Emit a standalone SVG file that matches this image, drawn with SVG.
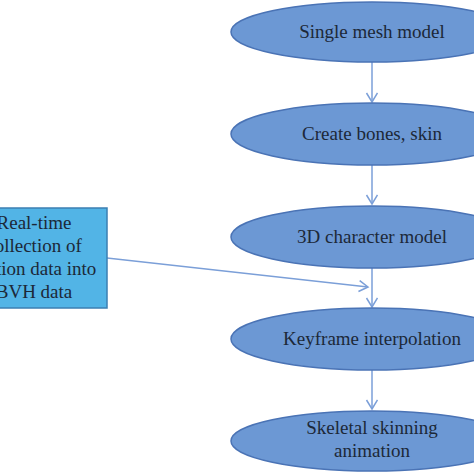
<svg xmlns="http://www.w3.org/2000/svg" width="474" height="474" viewBox="0 0 474 474">
<defs>
<marker id="arr" markerWidth="14" markerHeight="14" refX="10" refY="6" orient="auto" markerUnits="userSpaceOnUse">
<path d="M1,0.5 L10,6 L1,11.5" fill="none" stroke="#7b9fd8" stroke-width="1.5"/>
</marker>
</defs>
<style>
.ell{fill:#6c98d4;stroke:#4a73b5;stroke-width:1.5}
.box{fill:#52b4e6;stroke:#3b7fb2;stroke-width:1.5}
.t{font-family:"Liberation Serif","Times New Roman",serif;font-size:19px;fill:#1c2838;text-anchor:middle}
.c{fill:none;stroke:#7b9fd8;stroke-width:1.5;marker-end:url(#arr)}
</style>
<rect width="474" height="474" fill="#ffffff"/>
<g id="connectors">
<line class="c" x1="372" y1="62" x2="372" y2="102"/>
<line class="c" x1="372" y1="165" x2="372" y2="204"/>
<line class="c" x1="372" y1="268" x2="372" y2="307"/>
<line class="c" x1="372" y1="370" x2="372" y2="409"/>
<line class="c" x1="107" y1="258" x2="368" y2="287"/>
</g>
<g id="n1"><ellipse class="ell" cx="372" cy="32" rx="141" ry="30"/><text class="t" x="372" y="38">Single mesh model</text></g>
<g id="n2"><ellipse class="ell" cx="372" cy="134" rx="141" ry="31"/><text class="t" x="372" y="140">Create bones, skin</text></g>
<g id="n3"><ellipse class="ell" cx="372" cy="237" rx="141" ry="31"/><text class="t" x="372" y="243">3D character model</text></g>
<g id="n4"><ellipse class="ell" cx="372" cy="339" rx="141" ry="31"/><text class="t" x="372" y="345">Keyframe interpolation</text></g>
<g id="n5"><ellipse class="ell" cx="372" cy="441" rx="141" ry="30"/><text class="t" x="372" y="434">Skeletal skinning</text><text class="t" x="372" y="457">animation</text></g>
<g id="src"><rect class="box" x="-40" y="208" width="147" height="100"/>
<text class="t" x="34" y="229">Real-time</text>
<text class="t" x="34" y="252">collection of</text>
<text class="t" x="34" y="275">motion data into</text>
<text class="t" x="34" y="298">BVH data</text></g>
</svg>
